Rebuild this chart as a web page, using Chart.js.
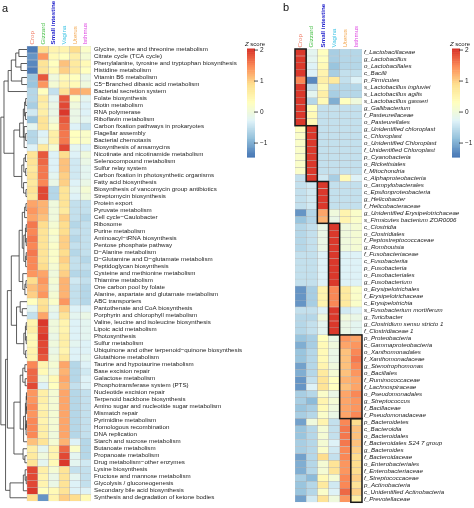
<!DOCTYPE html>
<html>
<head>
<meta charset="utf-8">
<script src="https://cdn.jsdelivr.net/npm/chart.js@4.4.0/dist/chart.umd.min.js"></script>
<style>
  html, body { margin: 0; padding: 0; background: #fff; }
  #wrap { position: relative; width: 474px; height: 508px; }
  #wrap canvas { position: absolute; left: 0; top: 0; }
</style>
</head>
<body>
<div id="wrap">
  <canvas id="heatA" width="474" height="508"></canvas>
  <canvas id="heatB" width="474" height="508"></canvas>
</div>
<script>
const FONT = '"Liberation Sans", Arial, Helvetica, sans-serif';
const HEAD_SIZE = 6.2;

// column headers
const tissues = ['Crop', 'Gizzard', 'Small intestine', 'Vagina', 'Uterus', 'Isthmus'];
const tissueColors = ['#f07e68', '#4fc24f', '#2222cc', '#3fc4e4', '#f2a64e', '#dd3fe0'];

// colour scale (pheatmap style, reversed RdYlBu)
const zStops = ['#4575B4', '#91BFDB', '#E0F3F8', '#FFFFBF', '#FEE090', '#FC8D59', '#D73027'];
const zMin = -1.45, zMax = 2.05;
const zTicks = [-1, 0, 1, 2];

// panel a: KEGG pathways, rows top to bottom
const pathways = [
  'Glycine, serine and threonine metabolism', 'Citrate cycle (TCA cycle)',
  'Phenylalanine, tyrosine and tryptophan biosynthesis', 'Histidine metabolism',
  'Vitamin B6 metabolism', 'C5\u2212Branched dibasic acid metabolism', 'Bacterial secretion system',
  'Folate biosynthesis', 'Biotin metabolism', 'RNA polymerase', 'Riboflavin metabolism',
  'Carbon fixation pathways in prokaryotes', 'Flagellar assembly', 'Bacterial chemotaxis',
  'Biosynthesis of ansamycins', 'Nicotinate and nicotinamide metabolism', 'Selenocompound metabolism',
  'Sulfur relay system', 'Carbon fixation in photosynthetic organisms', 'Fatty acid biosynthesis',
  'Biosynthesis of vancomycin group antibiotics', 'Streptomycin biosynthesis', 'Protein export',
  'Pyruvate metabolism', 'Cell cycle\u2212Caulobacter', 'Ribosome', 'Purine metabolism',
  'Aminoacyl\u2212tRNA biosynthesis', 'Pentose phosphate pathway', 'D\u2212Alanine metabolism',
  'D\u2212Glutamine and D\u2212glutamate metabolism', 'Peptidoglycan biosynthesis',
  'Cysteine and methionine metabolism', 'Thiamine metabolism', 'One carbon pool by folate',
  'Alanine, aspartate and glutamate metabolism', 'ABC transporters', 'Pantothenate and CoA biosynthesis',
  'Porphyrin and chlorophyll metabolism', 'Valine, leucine and isoleucine biosynthesis',
  'Lipoic acid metabolism', 'Photosynthesis', 'Sulfur metabolism',
  'Ubiquinone and other terpenoid\u2212quinone biosynthesis', 'Glutathione metabolism',
  'Taurine and hypotaurine metabolism', 'Base excision repair', 'Galactose metabolism',
  'Phosphotransferase system (PTS)', 'Nucleotide excision repair', 'Terpenoid backbone biosynthesis',
  'Amino sugar and nucleotide sugar metabolism', 'Mismatch repair', 'Pyrimidine metabolism',
  'Homologous recombination', 'DNA replication', 'Starch and sucrose metabolism', 'Butanoate metabolism',
  'Propanoate metabolism', 'Drug metabolism\u2212other enzymes', 'Lysine biosynthesis',
  'Fructose and mannose metabolism', 'Glycolysis / gluconeogenesis', 'Secondary bile acid biosynthesis',
  'Synthesis and degradation of ketone bodies'
];

// z scores per pathway: Crop, Gizzard, Small intestine, Vagina, Uterus, Isthmus
const pathZ = [
  [-1.4, 0.9, 0.5, 0.5, 0.9, 0.2], [-1.2, 1.4, 0.4, 0.3, 0.6, 0.1], [-1.3, 0.8, 0.3, 1.1, 0.7, 0.4],
  [-1.4, 0.8, 0.4, 1.0, 0.7, 0.3], [-0.8, 1.8, 0.0, 0.4, 0.3, -0.1], [-0.8, 1.4, 0.1, 0.5, 0.4, 0.0],
  [-0.6, 0.3, -0.5, 0.8, 1.3, 1.2], [-0.6, 0.7, -0.2, 1.8, 0.2, -0.2], [-0.7, 0.6, -0.1, 1.9, 0.0, -0.3],
  [-0.4, 0.6, -0.1, 2.0, -0.1, -0.3], [-0.8, 0.8, 0.0, 1.8, -0.1, -0.2], [-0.2, 0.8, 0.2, 1.7, -0.3, -0.5],
  [-0.6, -0.3, 0.6, 1.6, 0.3, 0.2], [-0.6, -0.2, 0.6, 1.6, 0.3, 0.2], [-0.3, 0.7, 0.1, 1.9, -0.2, -0.3],
  [0.8, 1.8, -0.3, 0.9, -0.3, 0.0], [0.8, 1.7, -0.3, 1.1, -0.4, -0.1], [0.7, 1.6, -0.3, 1.1, -0.4, -0.2],
  [0.8, 1.6, -0.2, 1.0, -0.4, -0.2], [0.7, 1.5, -0.1, 1.0, -0.3, -0.1], [0.8, 1.9, -0.6, 0.8, -0.2, 0.1],
  [0.7, 1.9, -0.6, 0.8, -0.3, 0.0], [1.3, 1.2, 0.0, 0.8, -0.5, -0.5], [1.4, 1.2, 0.0, 0.7, -0.5, -0.5],
  [1.3, 1.1, 0.0, 1.0, -0.5, -0.6], [1.6, 0.9, 0.1, 0.9, -0.6, -0.5], [1.5, 0.8, 0.2, 0.9, -0.5, -0.5],
  [1.6, 0.8, 0.1, 1.0, -0.6, -0.5], [1.5, 0.8, 0.2, 1.0, -0.5, -0.5], [1.6, 0.8, 0.2, 0.9, -0.6, -0.5],
  [1.5, 0.8, 0.2, 1.0, -0.5, -0.6], [1.5, 0.9, 0.1, 0.9, -0.5, -0.5], [1.4, 1.3, 0.0, 1.0, -0.6, -0.6],
  [0.9, 1.4, 0.1, 1.2, -0.4, -0.5], [1.1, 1.3, 0.0, 1.2, -0.5, -0.6], [1.0, 1.4, 0.1, 1.2, -0.5, -0.6],
  [0.3, 0.8, 0.2, 1.4, -0.5, -0.6], [-0.2, 0.9, -0.1, 1.0, -0.3, -0.3], [-0.5, 1.3, -0.2, 0.8, -0.2, -0.1],
  [0.5, 2.0, 0.0, 0.5, -0.3, -0.2], [0.6, 1.9, 0.0, 0.5, -0.3, -0.2], [0.4, 2.0, -0.1, 0.6, -0.3, -0.2],
  [0.4, 1.9, 0.0, 0.6, -0.2, -0.3], [0.5, 1.9, -0.1, 0.5, -0.3, -0.3], [0.5, 1.8, 0.0, 0.7, -0.3, -0.2],
  [1.5, 0.5, 0.1, 1.3, -0.6, -0.3], [1.7, 0.4, 0.0, 1.2, -0.6, -0.4], [1.7, 0.0, 0.4, 1.3, -0.6, -0.3],
  [1.9, -0.3, 0.3, 1.2, -0.5, -0.3], [1.4, 0.6, 0.1, 1.3, -0.6, -0.5], [1.4, 0.6, 0.1, 1.3, -0.6, -0.5],
  [1.5, 0.5, 0.1, 1.3, -0.6, -0.5], [1.4, 0.6, 0.1, 1.3, -0.6, -0.5], [1.5, 0.5, 0.1, 1.3, -0.6, -0.5],
  [1.5, 0.6, 0.1, 1.3, -0.6, -0.5], [1.5, 0.6, 0.0, 1.3, -0.6, -0.5], [1.1, 0.8, 0.1, 1.2, -0.3, -0.6],
  [0.6, -0.2, 0.5, 1.7, 0.2, -0.6], [0.7, 0.0, 0.5, 1.9, -0.2, -0.6], [0.8, -0.2, 0.4, 2.0, -0.2, -0.4],
  [1.9, 0.6, 0.1, 0.8, -0.5, -0.5], [1.9, 0.5, -0.1, 0.8, -0.2, -0.5], [1.9, 0.5, -0.1, 0.8, -0.3, -0.5],
  [2.0, 0.3, 0.4, 0.8, -0.3, -0.3], [0.9, -1.2, 0.5, 1.0, 0.9, 0.4]
];

// row dendrogram of panel a: [height, left, right], leaves are row indexes
const clusterA = [7.2, [6.0, [4.3, [3.1, 0, 1], [2.3, 2, 3]], [2.0, 4, 5]], 6];
const clusterB = [2.8, [1.4, [0.9, [0.5, 7, 8], [0.6, 9, 10]], [1.1, 11, 14]], [0.5, 12, 13]];
const clusterC = [2.0, [1.2, [0.6, 15, 16], [0.5, 17, 18]], [1.3, 19, [0.4, 20, 21]]];
const clusterD = [3.0, [1.8, [0.9, [0.4, 22, 23], 24], [1.2, [0.6, [0.3, 25, 26], [0.3, 27, 28]], [0.5, [0.3, 29, 30], 31]]],
                  [1.6, 32, [0.8, [0.4, 33, 34], 35]]];
const clusterE = [2.6, 36, [1.8, 37, 38]];
const clusterF = [1.2, [0.6, [0.3, 39, 40], [0.3, 41, 42]], [0.5, 43, 44]];
const clusterG = [2.6, [1.6, [0.8, 45, 46], [0.7, 47, 48]],
                  [1.3, [0.6, [0.3, [0.2, 49, 50], [0.2, 51, 52]], [0.35, [0.2, 53, 54], 55]], 56]];
const clusterH = [1.5, 57, [0.8, 58, 59]];
const clusterI = [1.4, [0.7, 60, [0.3, 61, 62]], 63];
const pathTree = [10,
  [8.8, clusterA, [5.0, clusterB, clusterC]],
  [8.2, [7.5, [6.0, clusterD, [4.0, clusterE, clusterF]], [5.0, clusterG, clusterH]], [6.5, clusterI, 64]]
];

// panel b: microbial taxa
const taxa = [
  'f_Lactobacillaceae', 'g_Lactobacillus', 'o_Lactobacillales', 'c_Bacilli', 'p_Firmicutes',
  's_Lactobacillus ingluviei', 's_Lactobacillus agilis', 's_Lactobacillus gasseri', 'g_Gallibacterium',
  'f_Pasteurellaceae', 'o_Pasteurellales', 'g_Unidentified chloroplast', 'c_Chloroplast',
  'o_Unidentified Chloroplast', 'f_Unidentified Chloroplast', 'p_Cyanobacteria', 'o_Rickettsiales',
  'f_Mitochondria', 'c_Alphaproteobacteria', 'o_Campylobacterales', 'c_Epsilonproteobacteria',
  'g_Helicobacter', 'f_Helicobacteraceae', 'g_Unidentified Erysipelotrichaceae',
  's_Firmicutes bacterium ZOR0006', 'c_Clostridia', 'o_Clostridiales', 'f_Peptostreptococcaceae',
  'g_Romboutsia', 'f_Fusobacteriaceae', 'c_Fusobacteriia', 'p_Fusobacteria', 'o_Fusobacteriales',
  'g_Fusobacterium', 'o_Erysipelotrichales', 'f_Erysipelotrichaceae', 'c_Erysipelotrichia',
  's_Fusobacterium mortiferum', 'g_Turicibacter', 'g_Clostridium sensu stricto 1', 'f_Clostridiaceae 1',
  'p_Proteobacteria', 'c_Gammaproteobacteria', 'o_Xanthomonadales', 'f_Xanthomonadaceae',
  'g_Stenotrophomonas', 'o_Bacillales', 'f_Ruminococcaceae', 'f_Lachnospiraceae', 'o_Pseudomonadales',
  'g_Streptococcus', 'f_Bacillaceae', 'f_Pseudomonadaceae', 'p_Bacteroidetes', 'c_Bacteroidia',
  'o_Bacteroidales', 'f_Bacteroidales S24 7 group', 'g_Bacteroides', 'f_Bacteroidaceae',
  'o_Enterobacteriales', 'f_Enterobacteriaceae', 'f_Streptococcaceae', 'p_Actinobacteria',
  'c_Unidentified Actinobacteria', 'f_Prevotellaceae'
];

const taxaZ = [
  [2.0, -0.2, 0.3, -0.7, -0.6, -0.6], [2.0, -0.2, 0.3, -0.7, -0.6, -0.6], [2.0, -0.3, 0.4, -0.8, -0.6, -0.6],
  [2.0, -0.3, 0.5, -0.7, -0.5, -0.5], [1.5, -1.3, 0.6, 0.7, -0.5, -0.3], [2.0, -0.5, 0.4, -0.6, -0.6, -0.6],
  [2.0, -0.2, 0.6, -0.7, -0.6, -0.6], [2.0, -0.6, 0.4, -1.0, 0.3, 0.0], [2.0, 0.3, -0.5, -0.5, -0.5, -0.5],
  [2.0, 0.4, -0.5, -0.5, -0.5, -0.5], [2.0, 0.4, -0.5, -0.5, -0.5, -0.5], [0.3, 2.0, -0.5, -0.5, -0.5, -0.5],
  [0.2, 2.0, -0.5, -0.5, -0.5, -0.5], [0.2, 2.0, -0.5, -0.5, -0.5, -0.5], [0.2, 2.0, -0.5, -0.5, -0.5, -0.5],
  [0.2, 2.0, -0.5, -0.5, -0.5, -0.5], [0.2, 2.0, -0.5, -0.5, -0.5, -0.5], [0.2, 2.0, -0.5, -0.5, -0.5, -0.5],
  [-0.5, 2.0, -0.4, -0.7, 0.4, -0.3], [-0.5, -0.4, 2.0, -0.5, -0.5, -0.5], [-0.5, -0.4, 2.0, -0.5, -0.5, -0.5],
  [-0.5, -0.4, 2.0, -0.5, -0.5, -0.5], [-0.5, -0.4, 2.0, -0.5, -0.5, -0.5], [-1.2, -0.6, 1.3, 0.0, 0.5, 0.2],
  [-0.8, -0.6, 1.2, -0.1, 0.5, 0.2], [-0.6, -0.5, -0.1, 2.0, 0.0, 0.1], [-0.6, -0.5, -0.1, 2.0, 0.0, 0.1],
  [-0.6, -0.5, -0.1, 2.0, 0.0, 0.1], [-0.6, -0.5, -0.1, 2.0, 0.0, 0.1], [-0.5, -0.5, -0.3, 2.0, -0.3, -0.3],
  [-0.5, -0.5, -0.3, 2.0, -0.3, -0.3], [-0.5, -0.5, -0.3, 2.0, -0.3, -0.3], [-0.5, -0.5, -0.3, 2.0, -0.3, -0.3],
  [-0.5, -0.5, -0.3, 2.0, -0.3, -0.3], [-1.2, -0.7, 0.5, 1.5, 0.7, 0.2], [-1.2, -0.7, 0.5, 1.5, 0.7, 0.2],
  [-1.2, -0.7, 0.5, 1.5, 0.7, 0.2], [-0.5, -0.5, -0.3, 2.0, -0.4, -0.3], [-0.6, -0.6, 0.0, 2.0, 0.0, -0.1],
  [-0.6, -0.5, -0.2, 2.0, -0.1, -0.2], [-0.6, -0.5, -0.2, 2.0, -0.1, -0.2], [-0.8, -0.7, 0.3, -0.1, 1.4, 1.3],
  [-1.0, -0.7, 0.4, 0.0, 1.3, 1.4], [-0.8, -0.6, 0.4, -0.1, 1.1, 1.5], [-0.8, -0.6, 0.4, -0.1, 1.1, 1.6],
  [-1.1, -0.6, 0.5, 0.0, 1.1, 1.5], [-1.0, -0.6, 0.7, 0.1, 1.1, 1.4], [-1.2, -0.5, 0.8, 0.3, 1.2, 1.3],
  [-1.2, -0.3, 0.8, 0.3, 1.1, 1.3], [-0.7, -0.6, 0.2, -0.1, 1.3, 1.5], [-0.7, -0.9, 0.5, 0.1, 1.3, 1.4],
  [-0.8, -0.7, 0.4, 0.0, 1.3, 1.4], [-0.7, -0.6, 0.2, -0.1, 1.3, 1.5], [-1.1, 0.0, 0.5, -0.5, 1.5, 0.9],
  [-0.8, -0.6, 0.1, -0.5, 1.6, 1.1], [-0.8, -0.6, 0.1, -0.5, 1.6, 1.1], [-0.7, -0.6, 0.1, -0.3, 1.6, 1.1],
  [-0.7, -0.6, 0.2, -0.4, 1.5, 1.0], [-1.1, -0.6, 0.9, -0.5, 1.5, 0.9], [-1.0, -0.6, 0.1, 0.8, 1.4, 0.9],
  [-1.0, -0.6, 0.1, 0.8, 1.4, 0.9], [-0.7, -0.9, 0.4, 0.1, 1.5, 1.0], [-0.8, -0.6, 0.7, -0.4, 1.5, 0.8],
  [-0.8, -0.6, 0.2, -0.3, 1.7, 1.0], [-1.1, -0.4, 0.8, 0.0, 1.4, 0.6]
];

// outlined blocks in panel b: first/last row and first/last column
const blockRows = [[0, 10], [11, 18], [19, 24], [25, 40], [41, 52], [53, 64]];
const blockCols = [[0, 0], [1, 1], [2, 2], [3, 3], [4, 5], [5, 5]];

function hexRgb(h) {
  return [1, 3, 5].map(i => parseInt(h.slice(i, i + 2), 16));
}
function zColor(v) {
  let t = (v - zMin) / (zMax - zMin);
  t = Math.max(0, Math.min(1, t)) * (zStops.length - 1);
  const i = Math.min(zStops.length - 2, Math.floor(t));
  const f = t - i;
  const a = hexRgb(zStops[i]), b = hexRgb(zStops[i + 1]);
  const c = a.map((x, k) => Math.round(x + (b[k] - x) * f));
  return `rgb(${c[0]},${c[1]},${c[2]})`;
}

function heatDatasets(rows) {
  return tissues.map((t, j) => ({
    label: t,
    data: rows.map(() => [j, j + 1]),
    backgroundColor: rows.map(r => zColor(r[j])),
    borderColor: 'rgba(150,150,150,0.55)',
    borderWidth: 0.5,
    borderSkipped: false,
    grouped: false,
    barPercentage: 1,
    categoryPercentage: 1
  }));
}

// draws dendrogram, colour bar, panel letter, boxes
const decorPlugin = {
  id: 'decor',
  afterDatasetsDraw(chart, args, opts) {
    const { ctx } = chart;
    const xs = chart.scales.x, ys = chart.scales.y;
    ctx.save();

    if (opts.tree) {
      const hx = h => xs.getPixelForValue(-h * opts.treeUnit);
      ctx.strokeStyle = '#333';
      ctx.lineWidth = 0.8;
      const walk = node => {
        if (typeof node === 'number') return { y: ys.getPixelForValue(node), h: 0 };
        const a = walk(node[1]), b = walk(node[2]);
        const x = hx(node[0]);
        ctx.beginPath();
        ctx.moveTo(hx(a.h), a.y); ctx.lineTo(x, a.y);
        ctx.lineTo(x, b.y); ctx.lineTo(hx(b.h), b.y);
        ctx.stroke();
        return { y: (a.y + b.y) / 2, h: node[0] };
      };
      walk(opts.tree);
    }

    if (opts.blocks) {
      ctx.strokeStyle = '#1a1a1a';
      ctx.lineWidth = 1.5;
      const half = (ys.getPixelForValue(1) - ys.getPixelForValue(0)) / 2;
      opts.blocks.rows.forEach((r, k) => {
        const c = opts.blocks.cols[k];
        const x0 = xs.getPixelForValue(c[0]), x1 = xs.getPixelForValue(c[1] + 1);
        const y0 = ys.getPixelForValue(r[0]) - half, y1 = ys.getPixelForValue(r[1]) + half;
        ctx.strokeRect(x0, y0, x1 - x0, y1 - y0);
      });
    }

    // colour key
    const cb = opts.colorbar;
    const yOf = v => cb.top + (zMax - v) * cb.unit;
    const steps = 60;
    for (let i = 0; i < steps; i++) {
      const v0 = zMax - (zMax - zMin) * i / steps;
      const v1 = zMax - (zMax - zMin) * (i + 1) / steps;
      ctx.fillStyle = zColor((v0 + v1) / 2);
      ctx.fillRect(cb.x, yOf(v0), cb.w, yOf(v1) - yOf(v0) + 0.6);
    }
    ctx.strokeStyle = '#222';
    ctx.lineWidth = 0.8;
    ctx.fillStyle = '#222';
    ctx.font = `6.5px ${FONT}`;
    ctx.textBaseline = 'middle';
    ctx.textAlign = 'left';
    zTicks.forEach(t => {
      const y = yOf(t);
      ctx.beginPath();
      ctx.moveTo(cb.x + cb.w - 1, y); ctx.lineTo(cb.x + cb.w + 3, y);
      ctx.stroke();
      ctx.fillText(t < 0 ? '\u2212' + Math.abs(t) : String(t), cb.x + cb.w + 5, y);
    });
    ctx.font = `italic 6px ${FONT}`;
    ctx.textBaseline = 'alphabetic';
    ctx.fillText('Z', cb.x - 2, cb.top - 3);
    const zw = ctx.measureText('Z ').width;
    ctx.font = `6px ${FONT}`;
    ctx.fillText('score', cb.x - 2 + zw, cb.top - 3);

    ctx.font = `11px ${FONT}`;
    ctx.fillStyle = '#111';
    ctx.fillText(opts.letter.text, opts.letter.x, opts.letter.y);
    ctx.restore();
  }
};

function makeChart(id, rowLabels, rows, cfg) {
  return new Chart(document.getElementById(id), {
    type: 'bar',
    data: { labels: rowLabels, datasets: heatDatasets(rows) },
    plugins: [decorPlugin],
    options: {
      indexAxis: 'y',
      responsive: false,
      animation: false,
      devicePixelRatio: 1,
      layout: { padding: { left: cfg.padLeft, right: 0, top: 0, bottom: cfg.padBottom } },
      plugins: {
        legend: { display: false },
        tooltip: { enabled: false },
        decor: cfg.decor
      },
      scales: {
        x: {
          type: 'linear',
          position: 'top',
          min: cfg.xMin,
          max: 6,
          grid: { display: false, drawTicks: false },
          border: { display: false },
          afterBuildTicks: s => { s.ticks = tissues.map((t, i) => ({ value: i + 0.5 })); },
          afterFit: s => { s.height = cfg.headHeight; },
          ticks: {
            autoSkip: false,
            minRotation: 90,
            maxRotation: 90,
            padding: 1.5,
            // rotated top labels sit one line height left of the tick; shift back
            labelOffset: HEAD_SIZE * 1.2,
            color: c => tissueColors[c.index],
            font: c => ({ size: HEAD_SIZE, lineHeight: 1.2, family: FONT, weight: c.index === 2 ? 'bold' : 'normal' }),
            callback: (v, i) => tissues[i]
          }
        },
        y: {
          type: 'category',
          position: 'right',
          offset: true,
          grid: { display: false, drawTicks: false },
          border: { display: false },
          afterFit: s => { s.width = cfg.labelWidth; },
          ticks: {
            autoSkip: false,
            padding: cfg.labelPad,
            color: '#222',
            font: { size: cfg.labelSize, family: FONT, style: cfg.labelStyle }
          }
        }
      }
    }
  });
}

makeChart('heatA', pathways, pathZ, {
  padLeft: 0, padBottom: 6, xMin: -2.53, headHeight: 46, labelWidth: 383, labelPad: 3,
  labelSize: 6.2, labelStyle: 'normal',
  decor: {
    tree: pathTree, treeUnit: 0.245,
    colorbar: { x: 247, w: 8, top: 48.5, unit: 31 },
    letter: { text: 'a', x: 2, y: 12 }
  }
});

makeChart('heatB', taxa, taxaZ, {
  padLeft: 295, padBottom: 2.5, xMin: 0, headHeight: 49, labelWidth: 112, labelPad: 2,
  labelSize: 6.2, labelStyle: 'italic',
  decor: {
    blocks: { rows: blockRows, cols: blockCols },
    colorbar: { x: 452, w: 8, top: 48.5, unit: 31 },
    letter: { text: 'b', x: 283, y: 11 }
  }
});
</script>
</body>
</html>
